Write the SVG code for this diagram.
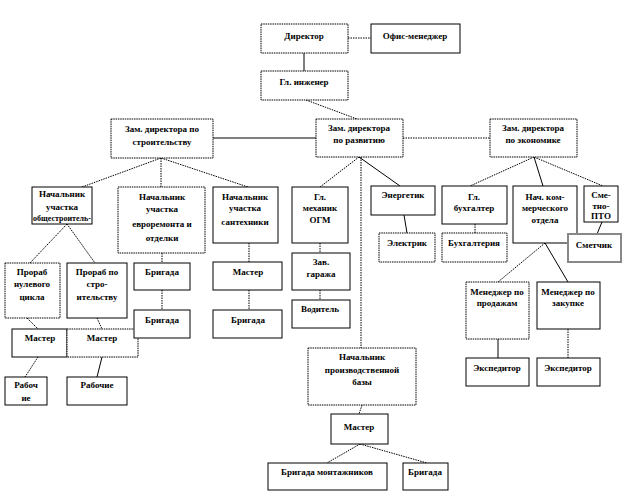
<svg xmlns="http://www.w3.org/2000/svg" width="627" height="495" viewBox="0 0 627 495">
<style>
.b{fill:#fff;stroke:#000;stroke-width:1}
.bd{fill:#fff;stroke:#000;stroke-width:1;stroke-dasharray:1.5 0.8}
.g{fill:#fff;stroke:#888;stroke-width:2}
.c{fill:none;stroke:#000;stroke-width:1}
.cd{fill:none;stroke:#000;stroke-width:1;stroke-dasharray:1.5 1}
text{font-family:"Liberation Serif","Times New Roman",serif;font-weight:bold;font-size:9px;text-anchor:middle;fill:#000}
.sm{font-size:8px}
</style>
<rect width="627" height="495" fill="#fff"/>
<g id="connectors">
<line class="cd" x1="348" y1="38" x2="371" y2="38"/>
<line class="c" x1="304" y1="53" x2="304" y2="71"/>
<line class="cd" x1="306" y1="100" x2="357" y2="119"/>
<line class="c" x1="213" y1="138" x2="316" y2="138"/>
<line class="cd" x1="403" y1="138" x2="490" y2="138"/>
<line class="cd" x1="161" y1="158" x2="82" y2="187"/>
<line class="cd" x1="161" y1="158" x2="161" y2="187"/>
<line class="cd" x1="161" y1="158" x2="248" y2="187"/>
<line class="cd" x1="359" y1="157" x2="320" y2="187"/>
<line class="c" x1="359" y1="157" x2="400" y2="186"/>
<line class="cd" x1="361" y1="157" x2="361" y2="348"/>
<line class="cd" x1="534" y1="157" x2="470" y2="186"/>
<line class="c" x1="534" y1="157" x2="543" y2="186"/>
<line class="cd" x1="534" y1="157" x2="603" y2="186"/>
<line class="c" x1="404" y1="215" x2="407" y2="233"/>
<line class="cd" x1="475" y1="224" x2="475" y2="233"/>
<line class="c" x1="602" y1="222" x2="597" y2="234"/>
<line class="cd" x1="320" y1="243" x2="320" y2="253"/>
<line class="cd" x1="320" y1="290" x2="320" y2="300"/>
<line class="cd" x1="249" y1="243" x2="249" y2="262"/>
<line class="cd" x1="249" y1="290" x2="249" y2="310"/>
<line class="cd" x1="162" y1="253" x2="162" y2="263"/>
<line class="cd" x1="162" y1="290" x2="162" y2="310"/>
<line class="cd" x1="67" y1="224" x2="30" y2="263"/>
<line class="cd" x1="67" y1="224" x2="95" y2="263"/>
<line class="cd" x1="27" y1="318" x2="38" y2="329"/>
<line class="cd" x1="97" y1="318" x2="102" y2="329"/>
<line class="cd" x1="38" y1="357" x2="25" y2="377"/>
<line class="c" x1="102" y1="357" x2="97" y2="377"/>
<line class="cd" x1="545" y1="243" x2="498" y2="282"/>
<line class="c" x1="545" y1="243" x2="568" y2="282"/>
<line class="c" x1="498" y1="339" x2="498" y2="358"/>
<line class="cd" x1="568" y1="329" x2="568" y2="358"/>
<line class="cd" x1="362" y1="405" x2="359" y2="414"/>
<line class="cd" x1="360" y1="444" x2="327" y2="463"/>
<line class="cd" x1="360" y1="444" x2="427" y2="463"/>
</g>
<g id="director"><rect class="bd" x="261" y="24" width="87" height="29"/><text x="304" y="39">Директор</text></g>
<g id="office-manager"><rect class="b" x="371" y="24" width="89" height="29"/><text x="415" y="39">Офис-менеджер</text></g>
<g id="chief-engineer"><rect class="bd" x="261" y="71" width="87" height="29"/><text x="304" y="85">Гл. инженер</text></g>
<g id="deputy-construction"><rect class="bd" x="111" y="119" width="102" height="39"/><text x="162" y="132">Зам. директора по</text><text x="162" y="145">строительству</text></g>
<g id="deputy-development"><rect class="bd" x="316" y="119" width="87" height="38"/><text x="359" y="131">Зам. директора</text><text x="359" y="143">по развитию</text></g>
<g id="deputy-economics"><rect class="bd" x="490" y="119" width="87" height="38"/><text x="533" y="131">Зам. директора</text><text x="533" y="143">по экономике</text></g>
<g id="head-general"><rect class="b" x="32" y="187" width="60" height="37"/><text x="62" y="197">Начальник</text><text x="62" y="210">участка</text><text class="sm" x="62" y="221">общестроитель-</text></g>
<g id="head-euro"><rect class="bd" x="118" y="187" width="87" height="66"/><text x="162" y="200">Начальник</text><text x="162" y="212">участка</text><text x="162" y="227">евроремонта и</text><text x="162" y="241">отделки</text></g>
<g id="head-plumbing"><rect class="b" x="213" y="187" width="65" height="56"/><text x="245" y="200">Начальник</text><text x="245" y="211">участка</text><text x="245" y="225">сантехники</text></g>
<g id="chief-mechanic"><rect class="b" x="292" y="187" width="56" height="56"/><text x="320" y="200">Гл.</text><text x="320" y="211">механик</text><text x="320" y="223">ОГМ</text></g>
<g id="energetic"><rect class="b" x="371" y="186" width="64" height="29"/><text x="403" y="198">Энергетик</text></g>
<g id="chief-accountant"><rect class="b" x="442" y="186" width="65" height="38"/><text x="474" y="200">Гл.</text><text x="474" y="211">бухгалтер</text></g>
<g id="head-commercial"><rect class="b" x="513" y="186" width="64" height="57"/><text x="545" y="200">Нач. ком-</text><text x="545" y="211">мерческого</text><text x="545" y="223">отдела</text></g>
<g id="pto"><rect class="b" x="584" y="186" width="34" height="36"/><text x="601" y="198">Сме-</text><text x="601" y="209">тно-</text><text x="601" y="219">ПТО</text></g>
<g id="electrician"><rect class="bd" x="379" y="233" width="56" height="29"/><text x="407" y="246">Электрик</text></g>
<g id="accounting"><rect class="bd" x="442" y="233" width="65" height="29"/><text x="474" y="246">Бухгалтерия</text></g>
<g id="estimator"><rect class="g" x="568" y="234" width="53" height="28"/><text x="594" y="248">Сметчик</text></g>
<g id="garage"><rect class="b" x="292" y="253" width="58" height="37"/><text x="321" y="265">Зав.</text><text x="321" y="277">гаража</text></g>
<g id="driver"><rect class="b" x="292" y="300" width="58" height="28"/><text x="320" y="312">Водитель</text></g>
<g id="master-plumbing"><rect class="b" x="213" y="262" width="69" height="28"/><text x="248" y="275">Мастер</text></g>
<g id="brigade-plumbing"><rect class="b" x="213" y="310" width="69" height="28"/><text x="248" y="323">Бригада</text></g>
<g id="foreman-zero"><rect class="bd" x="5" y="263" width="55" height="55"/><text x="32" y="275">Прораб</text><text x="32" y="287">нулевого</text><text x="32" y="300">цикла</text></g>
<g id="foreman-construction"><rect class="b" x="67" y="263" width="60" height="55"/><text x="97" y="275">Прораб по</text><text x="97" y="287">стро-</text><text x="97" y="300">ительству</text></g>
<g id="brigade-euro-1"><rect class="b" x="134" y="263" width="56" height="27"/><text x="162" y="275">Бригада</text></g>
<g id="master-left"><rect class="b" x="12" y="329" width="55" height="28"/><text x="40" y="341">Мастер</text></g>
<g id="master-right"><rect class="bd" x="67" y="329" width="71" height="28"/><text x="102" y="341">Мастер</text></g>
<g id="brigade-euro-2"><rect class="b" x="134" y="310" width="56" height="28"/><text x="162" y="323">Бригада</text></g>
<g id="workers-left"><rect class="b" x="5" y="377" width="42" height="28"/><text x="26" y="388">Рабоч</text><text x="26" y="401">ие</text></g>
<g id="workers-right"><rect class="b" x="67" y="377" width="60" height="28"/><text x="97" y="388">Рабочие</text></g>
<g id="manager-sales"><rect class="bd" x="466" y="282" width="63" height="57"/><text x="497" y="295">Менеджер по</text><text x="497" y="306">продажам</text></g>
<g id="manager-purchase"><rect class="b" x="537" y="282" width="63" height="47"/><text x="568" y="295">Менеджер по</text><text x="568" y="306">закупке</text></g>
<g id="forwarder-1"><rect class="b" x="466" y="358" width="63" height="28"/><text x="497" y="371">Экспедитор</text></g>
<g id="forwarder-2"><rect class="b" x="537" y="358" width="63" height="28"/><text x="568" y="371">Экспедитор</text></g>
<g id="head-base"><rect class="bd" x="308" y="348" width="108" height="57"/><text x="362" y="360">Начальник</text><text x="362" y="373">производственной</text><text x="362" y="385">базы</text></g>
<g id="master-base"><rect class="b" x="331" y="414" width="57" height="30"/><text x="359" y="430">Мастер</text></g>
<g id="brigade-installers"><rect class="b" x="268" y="463" width="119" height="27"/><text x="327" y="475">Бригада монтажников</text></g>
<g id="brigade-base"><rect class="b" x="403" y="463" width="45" height="27"/><text x="425" y="475">Бригада</text></g>
</svg>
